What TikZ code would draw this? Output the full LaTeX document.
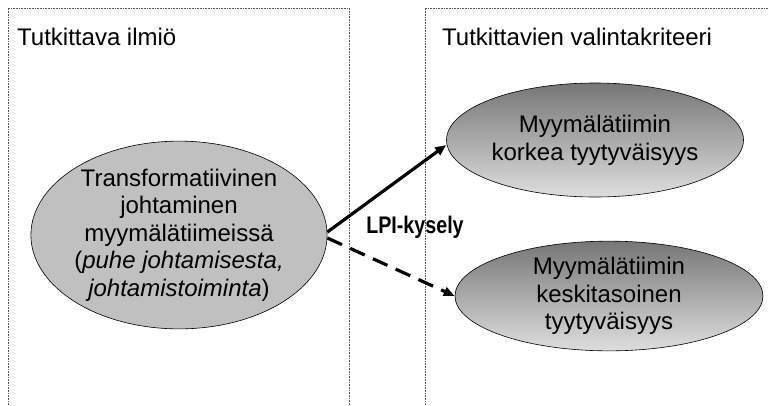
\documentclass[tikz,border=0pt]{standalone}
\usepackage{fontspec}
\setmainfont{Liberation Sans}
\newfontfamily\narrowfont[FakeStretch=0.82]{Liberation Sans}
\usetikzlibrary{shapes.geometric,arrows.meta,positioning}
\tikzset{>={Triangle[length=11pt,width=9pt]}}
\tikzset{
  box/.style={black!65, line width=0.8pt, dash pattern=on 0.8pt off 0.8pt},
  phenom/.style={ellipse, draw=black, line width=0.6pt, fill={rgb,255:red,192;green,192;blue,192},
    inner sep=0pt, align=center, font=\fontsize{24}{27.6}\selectfont},
  crit/.style={ellipse, draw=black, line width=0.6pt, inner sep=0pt, align=center,
    top color={rgb,255:red,118;green,118;blue,118}, bottom color={rgb,255:red,222;green,222;blue,222},
    font=\fontsize{24}{27.6}\selectfont},
  heading/.style={anchor=base west, inner sep=0pt, font=\fontsize{24}{27.6}\selectfont}
}

\begin{document}
\begin{tikzpicture}[x=1pt,y=-1pt]
                \useasboundingbox (0,0) rectangle (769,405);
                % Draw the two dotted frames
                \draw[box] (8,405) -- (8,8) -- (349,8) -- (349,405);
                \draw[box] (425,405) -- (425,8) -- (769,8);

                % Frame headings
                \node[heading] (phenomtitle) at (17,45) {Tutkittava ilmiö};
                \node[heading] (crittitle) at (442,45) {Tutkittavien valintakriteeri};

                % Draw the ellipses
                \node[phenom, minimum width=294pt, minimum height=174pt] (ilmio) at (179,235)
                    {Transformatiivinen\\johtaminen\\myymälätiimeissä\\(\textit{puhe johtamisesta,}\\\textit{johtamistoiminta})};
                \node[crit, minimum width=297pt, minimum height=114pt] (korkea) at (595,140)
                    {Myymälätiimin\\korkea tyytyväisyys};
                \node[crit, minimum width=308pt, minimum height=105pt] (keski) at (609,296)
                    {Myymälätiimin\\keskitasoinen\\tyytyväisyys};

                % Draw the arrows and the label between them
                \draw[->, line width=3.2pt] ([yshift=3pt]ilmio.east) -- ([yshift=-5pt]korkea.west);
                \draw[->, line width=3.2pt, dash pattern=on 16pt off 9pt] ([yshift=-3pt]ilmio.east) -- (keski.west);
                \node[font=\narrowfont\bfseries\fontsize{24}{27.6}\selectfont] (lpi) at (415,227) {LPI-kysely};
\end{tikzpicture}
\end{document}
